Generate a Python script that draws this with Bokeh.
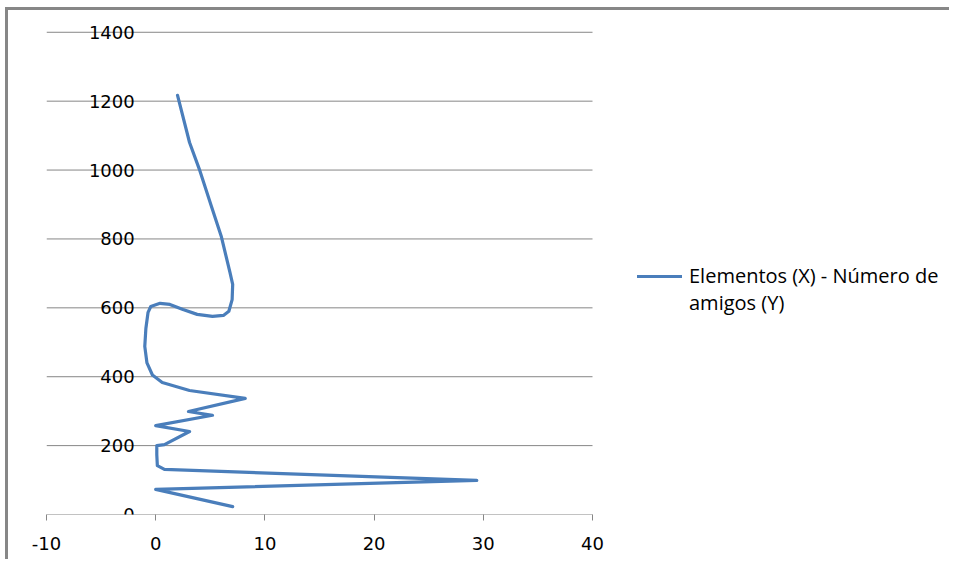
from bokeh.plotting import figure
from bokeh.models import FixedTicker, Legend, LegendItem, ColumnDataSource
from bokeh.core.properties import value
from bokeh.embed import file_html
from bokeh.resources import INLINE

# Data (x = número de amigos, y = elementos)
amigos = [7.05, 0.0, 29.4, 0.8, 0.15, 0.1, 0.1, 0.8, 3.1, 0.0, 5.2, 3.0, 8.2, 3.1, 0.6,
          -0.3, -0.8, -1.0, -0.9, -0.7, -0.45, 0.4, 1.3, 2.5, 3.8, 5.2, 6.2, 6.7, 7.0,
          7.05, 6.8, 6.0, 5.1, 4.0, 3.1, 2.0]
elementos = [23, 73, 99, 131, 142, 174, 200, 203, 241, 258, 288, 299, 337, 360, 383,
             405, 440, 488, 540, 587, 604, 613, 610, 595, 581, 575, 578, 590, 624,
             668, 703, 808, 895, 1002, 1080, 1217]

x_ticks = [-10, 0, 10, 20, 30, 40]
x_tick_labels = ["-10", "0", "10", "20", "30", "40"]
y_ticks = [0, 200, 400, 600, 800, 1000, 1200, 1400]
y_tick_labels = ["0", "200", "400", "600", "800", "1000", "1200", "1400"]
series_name_1 = "Elementos (X) - Número de"
series_name_2 = "amigos (Y)"

GRAY = "#868686"
BLUE = "#4a7ebb"
TICK_FONT = "DejaVu Sans"

X_MIN, X_MAX = x_ticks[0], x_ticks[-1]
FRAME_W = 902
PLOT_W = 546
x_end = X_MIN + (X_MAX - X_MIN) * FRAME_W / PLOT_W

p = figure(width=944, height=552, x_range=(X_MIN, x_end), y_range=(0, 1440),
           output_backend="svg", toolbar_location=None,
           min_border_left=38, min_border_right=944 - 38 - FRAME_W,
           min_border_top=8, min_border_bottom=48)
p.styles = {"margin-left": "5px", "margin-top": "7px",
            "border-left": "3px solid #878787", "border-top": "3px solid #878787"}
p.outline_line_color = None
p.background_fill_color = "white"
p.border_fill_color = "white"
p.xgrid.visible = False
p.ygrid.visible = False
p.yaxis.visible = False

# horizontal gridlines (also the horizontal axis line at 0), only across the plot area
p.segment(x0=[X_MIN] * len(y_ticks), x1=[X_MAX] * len(y_ticks), y0=y_ticks, y1=y_ticks,
          line_color=GRAY, line_width=1)

# x axis ticks and labels
p.xaxis.ticker = FixedTicker(ticks=x_ticks)
p.xaxis.major_label_overrides = dict(zip(x_ticks, x_tick_labels))
p.xaxis.axis_line_color = None
p.xaxis.major_tick_line_color = GRAY
p.xaxis.major_tick_out = 6
p.xaxis.major_tick_in = 0
p.xaxis.minor_tick_line_color = None
p.xaxis.major_label_text_font = TICK_FONT
p.xaxis.major_label_text_font_size = "18px"
p.xaxis.major_label_text_color = "black"
p.xaxis.major_label_standoff = 16

# y labels drawn at x = 0 like Excel
lab_src = ColumnDataSource(dict(x=[0] * len(y_ticks), y=y_ticks, t=y_tick_labels))
p.text(x="x", y="y", text="t", source=lab_src, x_offset=-21,
       text_align="right", text_baseline="middle",
       text_font=value(TICK_FONT), text_font_size="18px", text_color="black")

r = p.line(amigos, elementos, line_color=BLUE, line_width=3.2, line_join="round", line_cap="round")
r_blank = p.line(x=[], y=[], line_alpha=0)

legend = Legend(items=[LegendItem(label=series_name_1, renderers=[r]),
                       LegendItem(label=series_name_2, renderers=[r_blank])],
                location=(591, 198), padding=0, spacing=-1, glyph_width=45, glyph_height=20,
                label_height=20, label_standoff=7, border_line_color=None,
                background_fill_alpha=0, label_text_font="Open Sans",
                label_text_font_size="20px", label_text_color="black")
p.add_layout(legend, "center")

open("out.html", "w").write(file_html(p, INLINE))
